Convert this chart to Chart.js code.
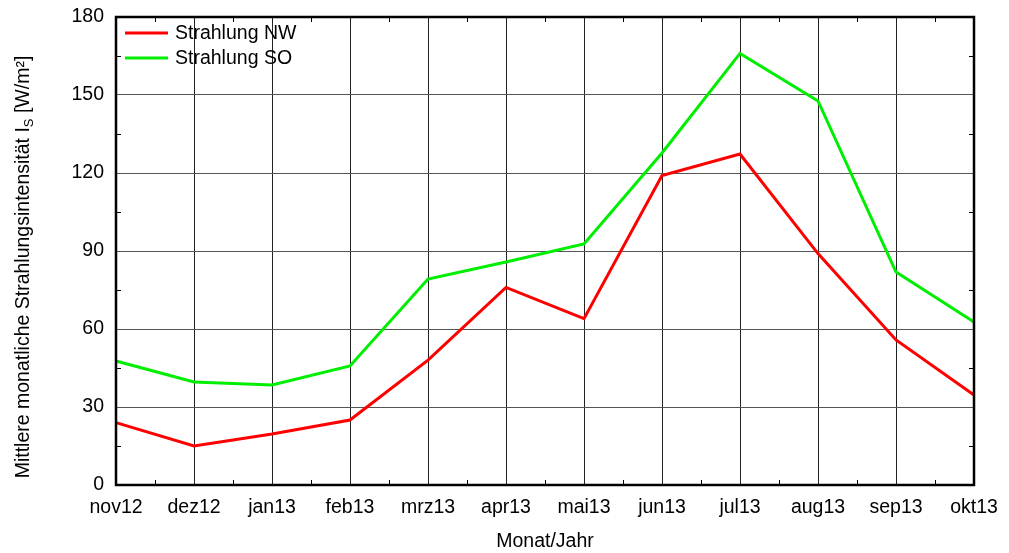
<!DOCTYPE html>
<html>
<head>
<meta charset="utf-8">
<script src="https://cdn.jsdelivr.net/npm/chart.js@4/dist/chart.umd.min.js"></script>
<style>
  html, body { margin: 0; padding: 0; background: #fff; }
  #wrap { width: 1009px; height: 553px; }
</style>
</head>
<body>
<div id="wrap"><canvas id="chart" width="1009" height="553"></canvas></div>
<script>
const months = ['nov12', 'dez12', 'jan13', 'feb13', 'mrz13', 'apr13', 'mai13', 'jun13', 'jul13', 'aug13', 'sep13', 'okt13'];
const strahlungNW = [24, 15, 19.6, 25, 48, 76, 64, 119, 127.3, 89, 55.8, 34.6];
const strahlungSO = [47.7, 39.6, 38.5, 45.8, 79.2, 85.8, 92.7, 127.7, 166, 147.7, 81.9, 62.7];

const FONT = 'Liberation Sans, Arial, sans-serif';
const FS = 19.5;

// frame, minor ticks, legend and the y title (with subscript)
const decorations = {
    id: 'decorations',
    afterDraw(chart) {
        const ctx = chart.ctx;
        const a = chart.chartArea;
        const x = chart.scales.x;
        const y = chart.scales.y;
        ctx.save();

        // minor ticks inside the frame
        ctx.strokeStyle = '#000';
        ctx.lineWidth = 1;
        ctx.beginPath();
        for (let v = 15; v < 180; v += 30) {
            const py = Math.round(y.getPixelForValue(v)) + 0.5;
            ctx.moveTo(a.left, py); ctx.lineTo(a.left + 5, py);
            ctx.moveTo(a.right, py); ctx.lineTo(a.right - 5, py);
        }
        for (let i = 0; i < months.length - 1; i++) {
            const px = Math.round((x.getPixelForValue(i) + x.getPixelForValue(i + 1)) / 2) + 0.5;
            ctx.moveTo(px, a.top); ctx.lineTo(px, a.top + 5);
            ctx.moveTo(px, a.bottom); ctx.lineTo(px, a.bottom - 5);
        }
        ctx.stroke();

        // frame
        ctx.lineWidth = 2.5;
        ctx.strokeRect(a.left, a.top, a.right - a.left, a.bottom - a.top);

        // legend
        ctx.font = FS + 'px ' + FONT;
        ctx.textBaseline = 'middle';
        ctx.textAlign = 'left';
        chart.data.datasets.forEach((ds, i) => {
            const ly = 33 + i * 25;
            ctx.strokeStyle = ds.borderColor;
            ctx.lineWidth = 3;
            ctx.beginPath();
            ctx.moveTo(125, ly); ctx.lineTo(168, ly);
            ctx.stroke();
            ctx.fillStyle = '#000';
            ctx.fillText(ds.label, 175, ly + 1);
        });

        // y axis title
        const main = 'Mittlere monatliche Strahlungsintensität I';
        const sub = 'S';
        const tail = ' [W/m²]';
        const big = FS + 'px ' + FONT;
        const small = '13px ' + FONT;
        ctx.font = big;
        const wMain = ctx.measureText(main).width;
        const wTail = ctx.measureText(tail).width;
        ctx.font = small;
        const wSub = ctx.measureText(sub).width;
        const total = wMain + wSub + wTail;
        ctx.translate(22, 267);
        ctx.rotate(-Math.PI / 2);
        ctx.fillStyle = '#000';
        ctx.textBaseline = 'alphabetic';
        let cx = -total / 2;
        ctx.font = big;
        ctx.fillText(main, cx, 7);
        cx += wMain;
        ctx.font = small;
        ctx.fillText(sub, cx, 11);
        cx += wSub;
        ctx.font = big;
        ctx.fillText(tail, cx, 7);
        ctx.restore();
    }
};

new Chart(document.getElementById('chart'), {
    type: 'line',
    data: {
        labels: months,
        datasets: [
            {
                label: 'Strahlung NW',
                data: strahlungNW,
                borderColor: '#ff0000',
                borderWidth: 3,
                pointRadius: 0,
                tension: 0
            },
            {
                label: 'Strahlung SO',
                data: strahlungSO,
                borderColor: '#00ee00',
                borderWidth: 3,
                pointRadius: 0,
                tension: 0
            }
        ]
    },
    options: {
        responsive: false,
        animation: false,
        layout: {
            padding: { left: 0, right: 35, top: 17, bottom: 0 }
        },
        plugins: {
            legend: { display: false },
            tooltip: { enabled: false }
        },
        scales: {
            x: {
                offset: false,
                grid: { color: '#222', lineWidth: 1, drawTicks: false },
                border: { display: false },
                ticks: {
                    color: '#000',
                    font: { family: FONT, size: FS },
                    padding: 11,
                    maxRotation: 0,
                    autoSkip: false
                },
                title: {
                    display: true,
                    text: 'Monat/Jahr',
                    color: '#000',
                    font: { family: FONT, size: FS },
                    padding: { top: 10, bottom: 0 }
                },
                afterFit(scale) { scale.height = 68; }
            },
            y: {
                min: 0,
                max: 180,
                grid: { color: '#555', lineWidth: 1, drawTicks: false },
                border: { display: false },
                ticks: {
                    stepSize: 30,
                    color: '#000',
                    font: { family: FONT, size: FS },
                    padding: 12
                },
                afterFit(scale) {
                    scale.width = 116;
                    scale.paddingTop = 0;
                    scale.paddingBottom = 0;
                }
            }
        }
    },
    plugins: [decorations]
});
</script>
</body>
</html>
